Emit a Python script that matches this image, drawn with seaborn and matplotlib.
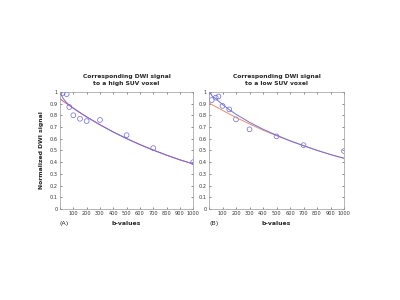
import matplotlib
matplotlib.use("Agg")
import matplotlib.pyplot as plt
import seaborn as sns
import pandas as pd

sns.set_theme(style="white")
plt.rcParams['font.family'] = ['DejaVu Sans']

b_values = [0, 20, 50, 70, 100, 150, 200, 300, 500, 700, 1000]
signal_high = [1.0, 0.99, 0.98, 0.87, 0.80, 0.77, 0.75, 0.76, 0.63, 0.52, 0.40]
signal_low = [1.0, 0.93, 0.95, 0.96, 0.88, 0.85, 0.765, 0.68, 0.62, 0.545, 0.495]

curve_b = [0, 10, 25, 50, 75, 100, 150, 200, 300, 400, 500, 600, 700, 800, 900, 1000]
mono_high = [0.940, 0.932, 0.919, 0.899, 0.879, 0.860, 0.822, 0.786, 0.719, 0.657,
             0.601, 0.550, 0.503, 0.460, 0.420, 0.385]
bi_high = [1.0, 0.972, 0.941, 0.907, 0.883, 0.861, 0.822, 0.786, 0.719, 0.657,
           0.601, 0.550, 0.503, 0.460, 0.420, 0.385]
mono_low = [0.906, 0.899, 0.889, 0.873, 0.858, 0.842, 0.811, 0.781, 0.726, 0.673,
            0.626, 0.581, 0.540, 0.501, 0.465, 0.433]
bi_low = [1.0, 0.991, 0.960, 0.942, 0.916, 0.892, 0.848, 0.808, 0.740, 0.681,
          0.630, 0.583, 0.541, 0.501, 0.465, 0.433]

titles = ["Corresponding DWI signal\nto a high SUV voxel",
          "Corresponding DWI signal\nto a low SUV voxel"]
panel_labels = ["(A)", "(B)"]
x_ticks = list(range(0, 1001, 100))
y_ticks = [i / 10 for i in range(11)]
y_ticklabels = ["0"] + [f"{v:.1f}" for v in y_ticks[1:-1]] + ["1"]
x_ticklabels = [""] + [str(v) for v in x_ticks[1:]]

fig = plt.figure(figsize=(4, 3), dpi=100)
axA = fig.add_axes([0.150, 0.303, 0.333, 0.391])
axB = fig.add_axes([0.5225, 0.303, 0.3375, 0.391])

data = [(signal_high, mono_high, bi_high, "#e0506e"),
        (signal_low, mono_low, bi_low, "#e8906a")]

for i, (ax, (sig, mono, bi, mono_col)) in enumerate(zip([axA, axB], data)):
    pts = pd.DataFrame({"b": b_values, "s": sig})
    cur = pd.DataFrame({"b": curve_b, "mono": mono, "bi": bi})
    sns.lineplot(data=cur, x="b", y="mono", ax=ax, color=mono_col, linewidth=0.7)
    sns.lineplot(data=cur, x="b", y="bi", ax=ax, color="#7070e0", linewidth=0.7)
    sns.scatterplot(data=pts, x="b", y="s", ax=ax, marker="o", s=12,
                    facecolors="none", edgecolor="#6a6ae8", linewidth=0.5)
    ax.set_xlim(0, 1000)
    ax.set_ylim(0, 1)
    ax.set_xticks(x_ticks)
    ax.set_xticklabels(x_ticklabels, fontsize=3.6)
    ax.set_yticks(y_ticks)
    ax.set_yticklabels(y_ticklabels, fontsize=3.6)
    ax.tick_params(direction="in", length=1.5, width=0.4, pad=1.5,
                   top=True, right=True, bottom=True, left=True, colors="#333333")
    for sp in ax.spines.values():
        sp.set_color("#999999")
        sp.set_linewidth(0.5)
    ax.set_xlabel("")
    ax.set_ylabel("")
    ax.set_title(titles[i], fontsize=4.3, fontweight="bold", pad=5, linespacing=1.35)
    ax.text(0.0, -0.12, panel_labels[i], transform=ax.transAxes, fontsize=4.6,
            ha="left", va="center")
    ax.text(0.5, -0.12, "b-values", transform=ax.transAxes, fontsize=4.4,
            fontweight="bold", ha="center", va="center")

axA.set_ylabel("Normalized DWI signal", fontsize=4.4, fontweight="bold", labelpad=4)

fig.savefig("out.png", dpi=100)
